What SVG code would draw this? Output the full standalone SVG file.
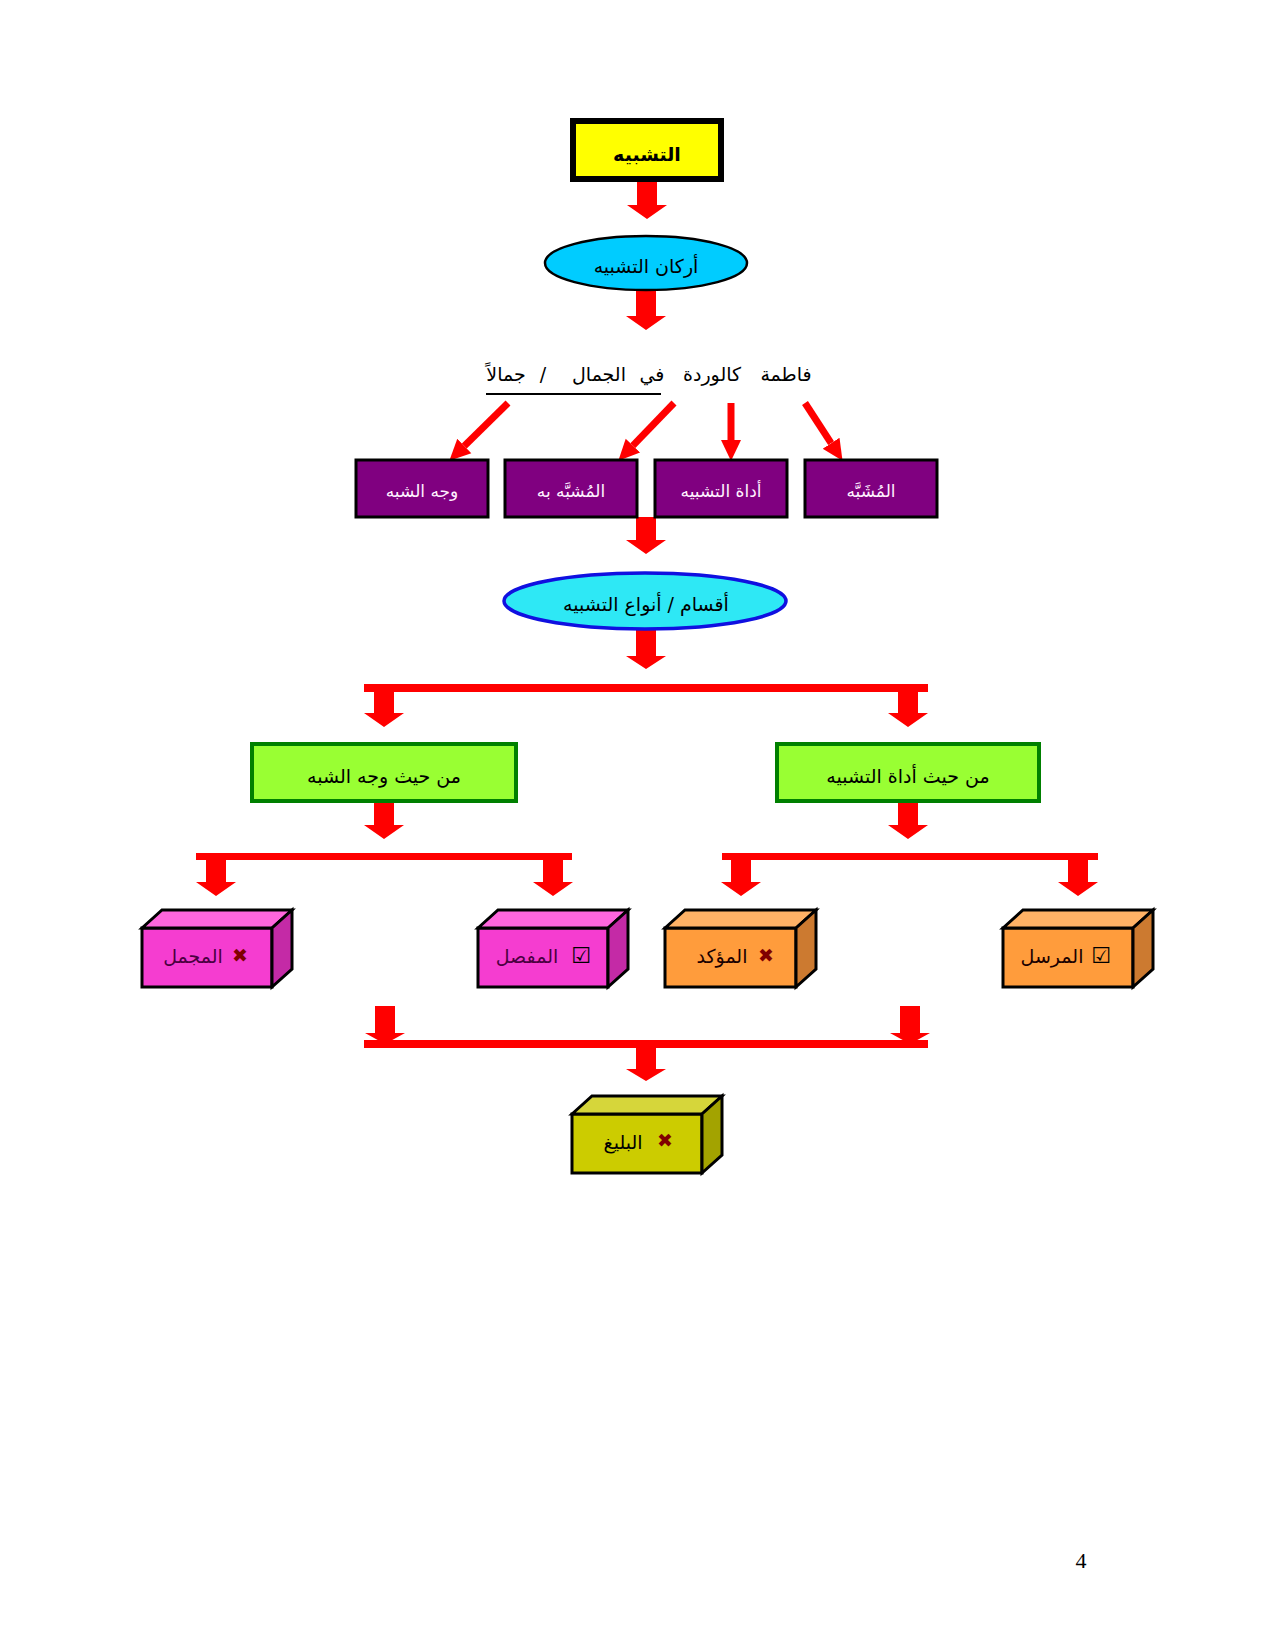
<svg xmlns="http://www.w3.org/2000/svg" width="1275" height="1650" viewBox="0 0 1275 1650">
<defs>
<style>
.ar{font-family:'DejaVu Sans',sans-serif;text-anchor:middle;}
.red{fill:#FF0000;stroke:none;}
.thin{stroke:#FF0000;stroke-width:7;fill:none;}
.pbox{fill:#800080;stroke:#000;stroke-width:3;}
.ptxt{fill:#FFF0FF;font-size:17px;}
.gbox{fill:#99FF33;stroke:#008000;stroke-width:4;}
.b3{stroke:#000;stroke-width:3;stroke-linejoin:miter;}
.pf{fill:#F53DD0;} .pt{fill:#FF66DD;} .ps{fill:#C42AA6;}
.of{fill:#FF9C3C;} .ot{fill:#FFB266;} .os{fill:#CC7A30;}
.yf{fill:#CCCC00;} .yt{fill:#D6D63A;} .ys{fill:#A3A300;}
.bt{font-size:19px;}
.x{fill:#800000;font-size:19px;font-family:'DejaVu Sans',sans-serif;text-anchor:middle;}
.chk{font-size:22px;font-family:'DejaVu Sans',sans-serif;text-anchor:middle;fill:#000;}
</style>
<marker id="ah" markerUnits="userSpaceOnUse" markerWidth="22" markerHeight="22" viewBox="0 -11 22 22" refX="0" refY="0" orient="auto">
<path d="M0,-10 L21,0 L0,10 Z" fill="#FF0000"/>
</marker>
</defs>

<g id="connectors">
<polygon class="red" points="637,180 657,180 657,205 667,205 647,219 627,205 637,205"/>
<polygon class="red" points="636,291 656,291 656,316 666,316 646,330 626,316 636,316"/>
<polygon class="red" points="636,517 656,517 656,540 666,540 646,554 626,540 636,540"/>
<polygon class="red" points="636,630 656,630 656,656 666,656 646,669 626,656 636,656"/>
<rect class="red" x="364" y="684" width="564" height="8"/>
<polygon class="red" points="374,692 394,692 394,713 404,713 384,727 364,713 374,713"/>
<polygon class="red" points="898,692 918,692 918,713 928,713 908,727 888,713 898,713"/>
<polygon class="red" points="374,803 394,803 394,825 404,825 384,839 364,825 374,825"/>
<polygon class="red" points="898,803 918,803 918,825 928,825 908,839 888,825 898,825"/>
<rect class="red" x="196" y="853" width="376" height="7"/>
<polygon class="red" points="206,860 226,860 226,882 236,882 216,896 196,882 206,882"/>
<polygon class="red" points="543,860 563,860 563,882 573,882 553,896 533,882 543,882"/>
<rect class="red" x="722" y="853" width="376" height="7"/>
<polygon class="red" points="731,860 751,860 751,882 761,882 741,896 721,882 731,882"/>
<polygon class="red" points="1068,860 1088,860 1088,882 1098,882 1078,896 1058,882 1068,882"/>
<polygon class="red" points="375,1006 395,1006 395,1033 405,1033 385,1044 365,1033 375,1033"/>
<polygon class="red" points="900,1006 920,1006 920,1033 930,1033 910,1044 890,1033 900,1033"/>
<rect class="red" x="364" y="1040" width="564" height="8"/>
<polygon class="red" points="636,1048 656,1048 656,1069 666,1069 646,1081 626,1069 636,1069"/>
<line class="thin" x1="508" y1="403" x2="464.3" y2="446" marker-end="url(#ah)"/>
<line class="thin" x1="674" y1="403" x2="632.9" y2="445.6" marker-end="url(#ah)"/>
<line class="thin" x1="731" y1="403" x2="731" y2="440" marker-end="url(#ah)"/>
<line class="thin" x1="805" y1="403" x2="831.1" y2="443.2" marker-end="url(#ah)"/>
</g>

<g id="n-tashbih">
<rect x="573" y="121" width="148" height="58" fill="#FFFF00" stroke="#000" stroke-width="6"/>
<text class="ar" x="647" y="161" font-size="19" font-weight="bold">التشبيه</text>
</g>

<g id="n-arkan">
<ellipse cx="646" cy="263" rx="101" ry="27" fill="#00CCFF" stroke="#000" stroke-width="2.5"/>
<text class="ar" x="646" y="273" font-size="19">أركان التشبيه</text>
</g>

<g id="n-sentence">
<text class="ar" x="786" y="381" font-size="19">فاطمة</text>
<text class="ar" x="712" y="381" font-size="19">كالوردة</text>
<text class="ar" x="652" y="381" font-size="19">في</text>
<text class="ar" x="599" y="381" font-size="19">الجمال</text>
<text class="ar" x="543" y="381" font-size="19">/</text>
<text class="ar" x="506" y="381" font-size="19">جمالاً</text>
<line x1="486" y1="394" x2="661" y2="394" stroke="#000" stroke-width="2"/>
</g>

<g id="n-wajh">
<rect class="pbox" x="356" y="460" width="132" height="57"/>
<text class="ar ptxt" x="422" y="497">وجه الشبه</text>
</g>
<g id="n-mushabbah-bih">
<rect class="pbox" x="505" y="460" width="132" height="57"/>
<text class="ar ptxt" x="571" y="497">المُشبَّه به</text>
</g>
<g id="n-adat">
<rect class="pbox" x="655" y="460" width="132" height="57"/>
<text class="ar ptxt" x="721" y="497">أداة التشبيه</text>
</g>
<g id="n-mushabbah">
<rect class="pbox" x="805" y="460" width="132" height="57"/>
<text class="ar ptxt" x="871" y="497">المُشَبَّه</text>
</g>

<g id="n-aqsam">
<ellipse cx="645" cy="601" rx="141" ry="28" fill="#2EE8F5" stroke="#1010E0" stroke-width="3.5"/>
<text class="ar" x="646" y="611" font-size="19">أقسام / أنواع التشبيه</text>
</g>

<g id="n-wajh-type">
<rect class="gbox" x="252" y="744" width="264" height="57"/>
<text class="ar" x="384" y="783" font-size="19">من حيث وجه الشبه</text>
</g>
<g id="n-adat-type">
<rect class="gbox" x="777" y="744" width="262" height="57"/>
<text class="ar" x="908" y="783" font-size="19">من حيث أداة التشبيه</text>
</g>

<g id="n-mujmal">
<rect class="b3 pf" x="142" y="928" width="130" height="59"/>
<polygon class="b3 pt" points="142,928 162,910 292,910 272,928"/>
<polygon class="b3 ps" points="272,928 292,910 292,969 272,987"/>
<text class="ar bt" x="193" y="963" fill="#4A0040">المجمل</text>
<text class="x" x="240" y="962">✖</text>
</g>
<g id="n-mufassal">
<rect class="b3 pf" x="478" y="928" width="130" height="59"/>
<polygon class="b3 pt" points="478,928 498,910 628,910 608,928"/>
<polygon class="b3 ps" points="608,928 628,910 628,969 608,987"/>
<text class="ar bt" x="527" y="963" fill="#4A0040">المفصل</text>
<text class="chk" x="581" y="963">☑</text>
</g>
<g id="n-muakkad">
<rect class="b3 of" x="665" y="928" width="131" height="59"/>
<polygon class="b3 ot" points="665,928 685,910 816,910 796,928"/>
<polygon class="b3 os" points="796,928 816,910 816,969 796,987"/>
<text class="ar bt" x="722" y="963" fill="#1A0000">المؤكد</text>
<text class="x" x="766" y="962">✖</text>
</g>
<g id="n-mursal">
<rect class="b3 of" x="1003" y="928" width="130" height="59"/>
<polygon class="b3 ot" points="1003,928 1023,910 1153,910 1133,928"/>
<polygon class="b3 os" points="1133,928 1153,910 1153,969 1133,987"/>
<text class="ar bt" x="1052" y="963" fill="#1A0000">المرسل</text>
<text class="chk" x="1101" y="963">☑</text>
</g>

<g id="n-baligh">
<rect class="b3 yf" x="572" y="1114" width="130" height="59"/>
<polygon class="b3 yt" points="572,1114 592,1096 722,1096 702,1114"/>
<polygon class="b3 ys" points="702,1114 722,1096 722,1155 702,1173"/>
<text class="ar bt" x="623" y="1149" fill="#000">البليغ</text>
<text class="x" x="665" y="1147">✖</text>
</g>

<text x="1081" y="1568" font-family="'Liberation Serif',serif" font-size="22" text-anchor="middle" fill="#000">4</text>
</svg>
